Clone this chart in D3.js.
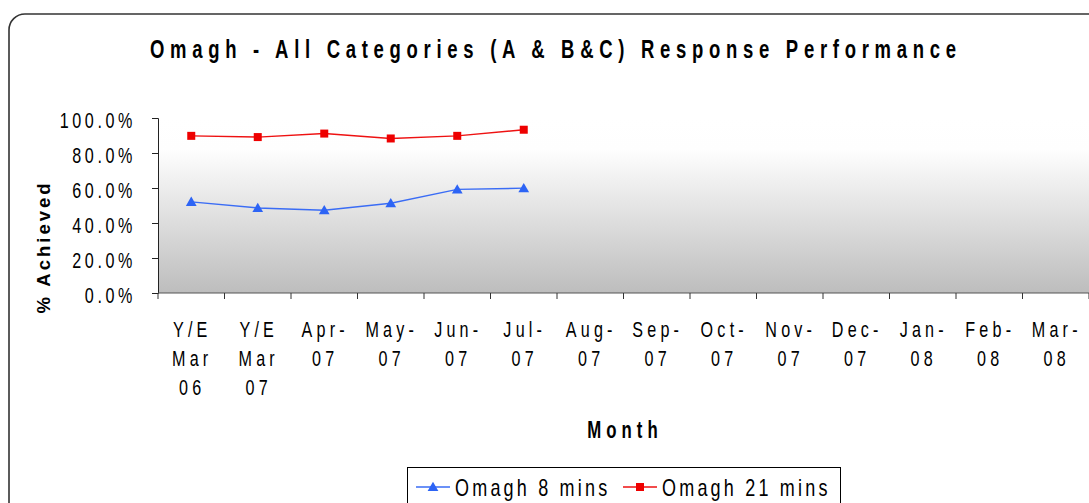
<!DOCTYPE html>
<html><head><meta charset="utf-8">
<script src="https://cdn.jsdelivr.net/npm/d3@7"></script>
<style>
html,body{margin:0;padding:0;background:#fff;overflow:hidden}
text{font-family:"Liberation Sans",Arial,sans-serif;fill:#000}
</style></head>
<body><svg id="c" width="1089" height="503"></svg>
<script>
const categories = [["Y/E","Mar","06"],["Y/E","Mar","07"],["Apr-","07"],["May-","07"],["Jun-","07"],["Jul-","07"],["Aug-","07"],["Sep-","07"],["Oct-","07"],["Nov-","07"],["Dec-","07"],["Jan-","08"],["Feb-","08"],["Mar-","08"]];
const omagh8 = [52.1, 48.6, 47.3, 51.3, 59.2, 59.9];
const omagh21 = [89.8, 89.1, 91.1, 88.3, 89.8, 93.3];
const yTicks = [0,20,40,60,80,100];
const title = "Omagh - All Categories (A & B&C) Response Performance";
const seriesNames = ["Omagh 8 mins","Omagh 21 mins"];

const svg = d3.select("#c");
const m = {l:158, r:1089, t:118, b:293};
const x = d3.scaleBand().domain(d3.range(categories.length)).range([m.l, m.r]);
const y = d3.scaleLinear().domain([0,100]).range([m.b, m.t]);

// narrow-text helper (emulates a condensed face by horizontal scaling)
function ntext(parent, o){
  const sx = o.sx || 0.75;
  const t = parent.append("text")
    .attr("transform", `translate(${o.x},${o.y})${o.rotate?` rotate(${o.rotate})`:""} scale(${sx},1)`)
    .attr("text-anchor", o.anchor || "start")
    .style("font-size", o.size+"px")
    .style("font-weight", o.weight || "normal")
    .style("letter-spacing", ((o.ls||0)/sx)+"px")
    .text(o.text);
  if (o.textLength) t.attr("textLength", o.textLength/sx).attr("lengthAdjust","spacing");
  return t;
}

// outer rounded frame
svg.append("rect").attr("x",9).attr("y",14).attr("width",1110).attr("height",520)
  .attr("rx",16).attr("fill","none").attr("stroke","#333").attr("stroke-width",1.6);

// gradient plot background
const defs = svg.append("defs");
const g = defs.append("linearGradient").attr("id","bg").attr("x1",0).attr("y1",0).attr("x2",0).attr("y2",1);
g.append("stop").attr("offset","0%").attr("stop-color","#ffffff");
g.append("stop").attr("offset","18%").attr("stop-color","#fefefe");
g.append("stop").attr("offset","100%").attr("stop-color","#bdbdbd");
svg.append("rect").attr("x",m.l).attr("y",m.t).attr("width",m.r-m.l).attr("height",m.b-m.t).attr("fill","url(#bg)");

// title
ntext(svg,{x:150,y:58,text:title,size:25,weight:"bold",sx:0.74,textLength:806});

// y axis
const ya = svg.append("g").attr("transform",`translate(${m.l},0)`)
  .call(d3.axisLeft(y).tickValues(yTicks).tickSize(6).tickFormat(d=>d3.format(".1f")(d)+"%"));
ya.select(".domain").attr("stroke","#222");
ya.selectAll(".tick line").attr("stroke","#222");
ya.selectAll(".tick text").attr("x",null).attr("dy",null)
  .attr("transform","translate(-22,9.5) scale(0.75,1)")
  .style("font-size","21.5px").style("letter-spacing",(3.6/0.75)+"px");

// x axis
const xa = svg.append("g").attr("transform",`translate(0,${m.b})`);
xa.append("line").attr("x1",m.l).attr("x2",m.r).attr("y1",0).attr("y2",0).attr("stroke","#555").attr("stroke-width",1.2);
const edges = d3.range(categories.length+1).map(i => i < categories.length ? x(i) : m.r);
xa.selectAll("line.tk").data(edges).join("line").attr("class","tk")
  .attr("x1",d=>d).attr("x2",d=>d).attr("y1",0).attr("y2",6).attr("stroke","#333");
categories.forEach((lines,i)=>{
  lines.forEach((s,j)=>{
    ntext(xa,{x:x(i)+x.bandwidth()/2+1,y:44+j*29,text:s,size:21.5,sx:0.75,ls:4.2,anchor:"middle"});
  });
});

// axis titles
svg.append("text").attr("transform","translate(50,247) rotate(-90)").attr("text-anchor","middle")
  .style("font-weight","bold").style("font-size","18.5px").style("letter-spacing","3px").text("% Achieved");
ntext(svg,{x:625,y:438,text:"Month",size:24,weight:"bold",sx:0.7,ls:5,anchor:"middle"});

// lines + markers
const cx = i => x(i)+x.bandwidth()/2;
const line = d3.line().x((d,i)=>cx(i)).y(d=>y(d));
svg.append("path").datum(omagh8).attr("d",line).attr("fill","none").attr("stroke","#3a6cf5").attr("stroke-width",1.4);
svg.append("path").datum(omagh21).attr("d",line).attr("fill","none").attr("stroke","#ee1111").attr("stroke-width",1.4);
const tri = d3.symbol().type(d3.symbolTriangle).size(50);
svg.selectAll("path.t").data(omagh8).join("path").attr("class","t").attr("d",tri)
  .attr("transform",(d,i)=>`translate(${cx(i)},${y(d)+1})`).attr("fill","#2d64f5");
svg.selectAll("rect.s").data(omagh21).join("rect").attr("class","s")
  .attr("x",(d,i)=>cx(i)-4).attr("y",d=>y(d)-4).attr("width",8).attr("height",8).attr("fill","#ee0000");

// legend
svg.append("rect").attr("x",407.5).attr("y",467.5).attr("width",433).attr("height",50).attr("fill","#fff").attr("stroke","#000");
const leg = [{c:"#3a6cf5",x:416,sym:"tri",name:seriesNames[0]},{c:"#ee1111",x:623,sym:"sq",name:seriesNames[1]}];
leg.forEach(l=>{
  svg.append("line").attr("x1",l.x).attr("x2",l.x+34).attr("y1",487).attr("y2",487).attr("stroke",l.c).attr("stroke-width",1.4);
  if(l.sym==="tri") svg.append("path").attr("d",tri).attr("transform",`translate(${l.x+17},488)`).attr("fill","#2d64f5");
  else svg.append("rect").attr("x",l.x+13).attr("y",483).attr("width",8).attr("height",8).attr("fill","#ee0000");
  ntext(svg,{x:l.x+39,y:496,text:l.name,size:24,sx:0.75,ls:3.2});
});
</script></body></html>
